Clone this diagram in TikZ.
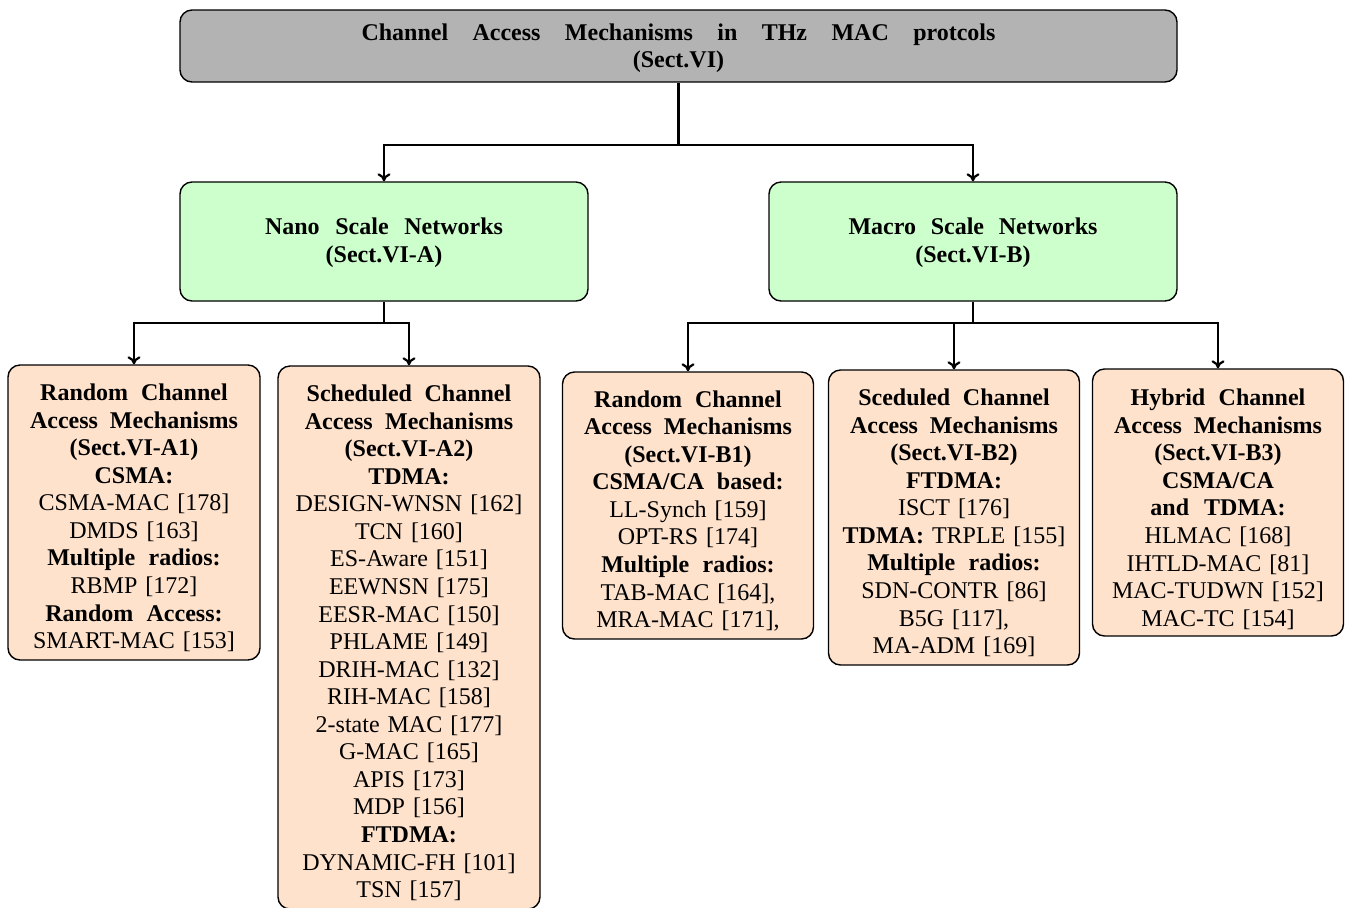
\documentclass[tikz,border=0pt]{standalone}
\usepackage{fontspec}
\setmainfont{Liberation Serif}
\usetikzlibrary{arrows.meta}
\definecolor{topgray}{RGB}{179,179,179}
\definecolor{netgreen}{RGB}{204,255,204}
\definecolor{leafpeach}{RGB}{254,226,204}
\newcommand\bl[1]{{\bfseries\spaceskip=5.5pt plus 2pt\relax #1}}
\newcommand\tstrut{\rule{0pt}{13.7pt}}
\begin{document}
\begin{tikzpicture}[x=0.5pt,y=-0.5pt,
  box/.style={draw=black, line width=0.7pt, rounded corners=6pt, inner sep=0pt, align=center, font=\fontsize{12}{13.78}\selectfont},
  topbox/.style={box, fill=topgray, text width=480pt, minimum width=498.5pt, minimum height=36pt},
  netbox/.style={box, fill=netgreen, text width=190pt, minimum width=204pt, minimum height=59.5pt},
  leaf/.style={box, fill=leafpeach},
  conn/.style={line width=1.1pt},
  arr/.style={conn, -{To[length=4pt,width=6.5pt]}}
]
\useasboundingbox (0,0) rectangle (1346,907);

\node[topbox] (top) at (678.5,46) {\bfseries\rule{0pt}{10.5pt}\makebox[317pt]{Channel\hfill Access\hfill Mechanisms\hfill in\hfill THz\hfill MAC\hfill protcols}\\(Sect.VI)};

\node[netbox] (nano) at (384,241.5) {\bfseries\rule{0pt}{9.5pt}\makebox[119pt]{Nano\hfill Scale\hfill Networks}\\(Sect.VI-A)};
\node[netbox] (macro) at (973,241.5) {\bfseries\rule{0pt}{9.5pt}\makebox[124.5pt]{Macro\hfill Scale\hfill Networks}\\(Sect.VI-B)};

\node[leaf, text width=116pt, minimum width=126pt, minimum height=147.5pt] (b1) at (134,512.5) {\tstrut\bl{Random Channel}\\\bl{Access Mechanisms}\\\bl{(Sect.VI-A1)}\\\bl{CSMA:}\\CSMA-MAC [178]\\DMDS [163]\\\bl{Multiple radios:}\\RBMP [172]\\\bl{Random Access:}\\SMART-MAC [153]};

\node[leaf, text width=121pt, minimum width=131pt, minimum height=271.5pt] (b2) at (409,637.5) {\tstrut\bl{Scheduled Channel}\\\bl{Access Mechanisms}\\\bl{(Sect.VI-A2)}\\\bl{TDMA:}\\DESIGN-WNSN [162]\\TCN [160]\\ES-Aware [151]\\EEWNSN [175]\\EESR-MAC [150]\\PHLAME [149]\\DRIH-MAC [132]\\RIH-MAC [158]\\2-state MAC [177]\\G-MAC [165]\\APIS [173]\\MDP [156]\\\bl{FTDMA:}\\DYNAMIC-FH [101]\\TSN [157]};

\node[leaf, text width=116pt, minimum width=125.5pt, minimum height=133.5pt] (b3) at (688,505.5) {\tstrut\bl{Random Channel}\\\bl{Access Mechanisms}\\\bl{(Sect.VI-B1)}\\\bl{CSMA/CA based:}\\LL-Synch [159]\\OPT-RS [174]\\\bl{Multiple radios:}\\TAB-MAC [164],\\MRA-MAC [171],};

\node[leaf, text width=116pt, minimum width=125.5pt, minimum height=147.5pt] (b4) at (954,517.5) {\tstrut\bl{Sceduled Channel}\\\bl{Access Mechanisms}\\\bl{(Sect.VI-B2)}\\\bl{FTDMA:}\\ISCT [176]\\\bl{TDMA:} TRPLE [155]\\\bl{Multiple radios:}\\SDN-CONTR [86]\\B5G [117],\\MA-ADM [169]};

\node[leaf, text width=116pt, minimum width=125.5pt, minimum height=133.5pt] (b5) at (1218,502.5) {\rule{0pt}{15pt}\bl{Hybrid Channel}\\\bl{Access Mechanisms}\\\bl{(Sect.VI-B3)}\\\bl{CSMA/CA}\\\bl{and TDMA:}\\HLMAC [168]\\IHTLD-MAC [81]\\MAC-TUDWN [152]\\MAC-TC [154]};

\coordinate (j0) at (678.5,145);
\draw[conn] (top.south) -- (j0);
\draw[arr] (j0) -| (nano.north);
\draw[arr] (j0) -| (macro.north);

\coordinate (j1) at (384,323);
\draw[conn] (nano.south) -- (j1);
\draw[arr] (j1) -| (b1.north);
\draw[arr] (j1) -| (b2.north);

\coordinate (j2) at (973,323);
\draw[conn] (macro.south) -- (j2);
\draw[arr] (j2) -| (b3.north);
\draw[arr] (j2) -| (b4.north);
\draw[arr] (j2) -| (b5.north);
\end{tikzpicture}
\end{document}
